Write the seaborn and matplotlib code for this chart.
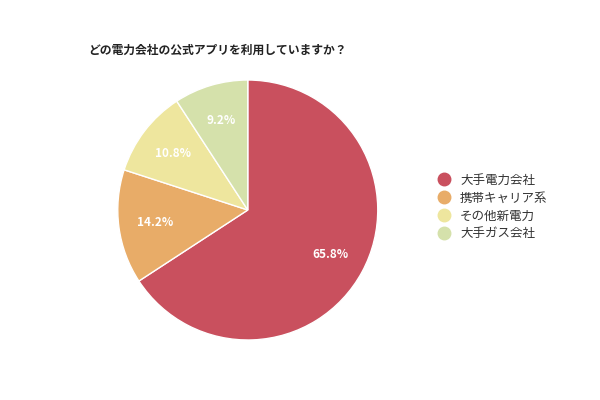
import matplotlib
matplotlib.use("Agg")
import matplotlib.pyplot as plt
import seaborn as sns
from matplotlib.lines import Line2D

sns.set_theme(style="white")
plt.rcParams['font.family'] = ['Noto Sans CJK JP', 'DejaVu Sans']

labels = ["大手電力会社", "携帯キャリア系", "その他新電力", "大手ガス会社"]
values = [65.8, 14.2, 10.8, 9.2]
colors = ["#C9505E", "#E8AC68", "#EEE69E", "#D5E1AB"]
title = "どの電力会社の公式アプリを利用していますか？"

fig = plt.figure(figsize=(6, 4), dpi=100)
fig.patch.set_facecolor("white")
ax = fig.add_axes([0.413 - 0.2167, 0.475 - 0.325, 0.4333, 0.65])

wedges, texts, autotexts = ax.pie(
    values, colors=colors, startangle=90, counterclock=False,
    autopct=lambda p: f"{p:.1f}%", pctdistance=0.72,
    wedgeprops=dict(edgecolor="white", linewidth=1),
    textprops=dict(color="white", fontsize=8.5, fontweight="bold"))
ax.set_xlim(-1, 1)
ax.set_ylim(-1, 1)
ax.set_aspect("equal")

fig.text(88 / 600, 1 - 50 / 400, title, fontsize=8.5, fontweight="bold",
         color="#222222", va="center", ha="left")

handles = [Line2D([0], [0], marker="o", linestyle="", markersize=9,
                  markerfacecolor=c, markeredgecolor=c) for c in colors]
fig.legend(handles, labels, loc="center left", bbox_to_anchor=(420 / 600, 1 - 207 / 400),
           frameon=False, fontsize=9, handletextpad=0.3, labelspacing=0.4,
           labelcolor="#333333")

fig.savefig("out.png", dpi=100, facecolor="white")
